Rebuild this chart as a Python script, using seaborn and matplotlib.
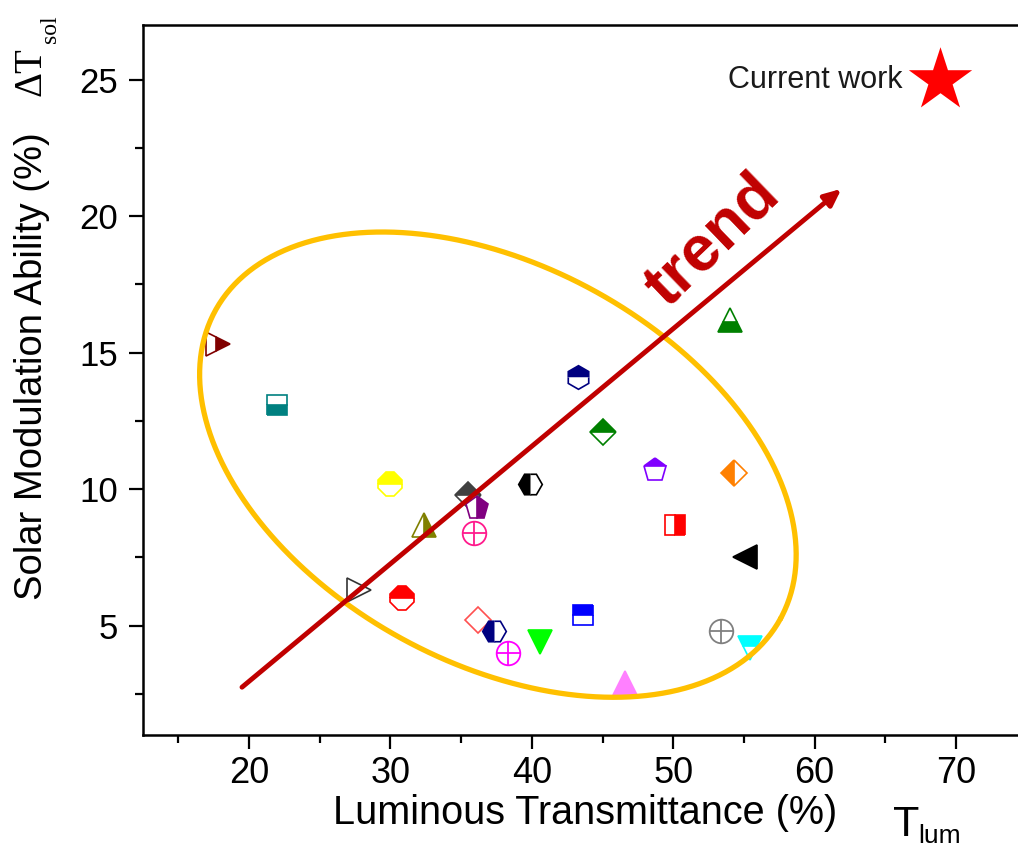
import numpy as np
import matplotlib
matplotlib.use("Agg")
import matplotlib.pyplot as plt
from matplotlib.ticker import MultipleLocator
import seaborn as sns

# luminous transmittance (%) and solar modulation ability (%) of reported films
lum = [17.8, 22.0, 30.0, 32.4, 35.5, 36.1, 35.9, 39.9, 27.8, 30.8, 36.2, 37.3,
       38.3, 40.6, 43.6, 46.6, 43.3, 45.0, 48.7, 54.3, 54.0, 50.1, 55.1, 53.4, 55.4]
sol = [15.3, 13.1, 10.2, 8.7, 9.8, 9.3, 8.4, 10.2, 6.3, 6.0, 5.2, 4.8,
       4.0, 4.4, 5.4, 2.9, 14.1, 12.1, 10.7, 10.6, 16.2, 8.7, 7.5, 4.8, 4.2]
markers = [">", "s", "8", "^", "D", "p", "oplus", "H", ">", "8", "D", "H",
           "oplus", "v", "s", "^", "h", "D", "p", "D", "^", "s", "<", "oplus", "v"]
colors = ["#800000", "#008080", "#FFFF00", "#808000", "#404040", "#800080",
          "#FF1A8C", "#000000", "#333333", "#FF0000", "#FF5050", "#000080",
          "#FF00FF", "#00FF00", "#0000FF", "#FF80FF", "#000080", "#008000",
          "#8000FF", "#FF8000", "#008000", "#FF0000", "#000000", "#808080",
          "#00FFFF"]
fills = ["right", "bottom", "top", "right", "top", "right", "none", "left",
         "none", "top", "none", "left", "none", "full", "top", "full", "top",
         "top", "top", "left", "bottom", "right", "full", "none", "top"]

star_lum = [68.9]
star_sol = [25.0]

sns.set_style("ticks")
plt.rcParams["font.family"] = ["Liberation Sans", "DejaVu Sans"]
plt.rcParams.update({"text.color": "black", "axes.labelcolor": "black",
                     "xtick.color": "black", "ytick.color": "black"})

fig = plt.figure(figsize=(10.18, 8.5), dpi=100)
ax = fig.add_axes([0.1405, 0.1353, 0.868, 0.8353])
ax.set_xlim(12.5, 75)
ax.set_ylim(1.0, 27.0)

for x, y, m, c, f in zip(lum, sol, markers, colors, fills):
    if m == "oplus":
        ax.plot(x, y, marker="o", ms=17, mfc="none", mec=c, mew=1.3, ls="none", zorder=3)
        ax.plot(x, y, marker="+", ms=17, mec=c, mew=1.3, ls="none", zorder=3)
        continue
    ms = {"s": 14, "D": 13, "8": 17, "h": 17, "H": 17, "p": 17}.get(m, 17)
    ax.plot(x, y, marker=m, ms=ms, color=c, mec=c, mew=1.2, ls="none",
            fillstyle=f, markerfacecoloralt="white", zorder=3)

sns.scatterplot(x=star_lum, y=star_sol, marker="*", s=2300, color="#FF0000",
                edgecolor="#FF0000", linewidth=0, ax=ax, zorder=4, legend=False)
ax.text(66.2, 25.0, "Current work", fontsize=22, ha="right", va="center",
        color="#1a1a1a")

# orange ellipse guide (half axes in pixels, tilted)
px_x, px_y = 14.14, 27.35
t = np.linspace(0, 2 * np.pi, 400)
th = np.deg2rad(28.6)
a, b = 322, 199
ex = 37.6 + (a * np.cos(t) * np.cos(th) - b * np.sin(t) * np.sin(th)) / px_x
ey = 10.9 - (a * np.cos(t) * np.sin(th) + b * np.sin(t) * np.cos(th)) / px_y
ax.plot(ex, ey, color="#FFC000", lw=3.8, zorder=5)

# trend arrow
ax.annotate("", xy=(61.9, 21.0), xytext=(19.5, 2.75),
            arrowprops=dict(arrowstyle="-|>,head_length=1.0,head_width=0.45",
                            color="#C00000", lw=3.5, shrinkA=0, shrinkB=0),
            zorder=6)
ax.text(52.8, 19.1, "trend", fontsize=46, fontweight="bold", color="#C00000",
        rotation=44, ha="center", va="center", rotation_mode="anchor")

ax.set_xticks([20, 30, 40, 50, 60, 70])
ax.set_xticklabels(["20", "30", "40", "50", "60", "70"], fontsize=26)
ax.set_yticks([5, 10, 15, 20, 25])
ax.set_yticklabels(["5", "10", "15", "20", "25"], fontsize=25)
ax.xaxis.set_minor_locator(MultipleLocator(5))
ax.set_yticks([2.5, 7.5, 12.5, 17.5, 22.5], minor=True)

ax.tick_params(which="major", direction="out", length=10, width=1.6)
ax.tick_params(which="minor", direction="out", length=6, width=1.6)
ax.tick_params(axis="x", which="major", pad=5)
ax.tick_params(axis="y", which="major", pad=8)
for sp in ax.spines.values():
    sp.set_linewidth(1.8)
    sp.set_color("black")

ax.set_xlabel("Luminous Transmittance (%)", fontsize=28.5)
ax.xaxis.set_label_coords(0.5, -0.083)
ax.set_ylabel("Solar Modulation Ability (%)", fontsize=27.5)
ax.yaxis.set_label_coords(-0.105, 0.52)

fig.text(893 / 1018, 1 - 836 / 850, "T", fontsize=31, ha="left", va="baseline")
fig.text(918 / 1018, 1 - 843 / 850, "lum", fontsize=19, ha="left", va="baseline")
fig.text(50 / 1018, 1 - 96 / 850, "\u0394T", fontsize=28, family="Liberation Serif",
         rotation=90, ha="right", va="bottom")
fig.text(61 / 1018, 1 - 43 / 850, "sol", fontsize=17, family="Liberation Serif",
         rotation=90, ha="right", va="bottom")

fig.savefig("out.png", dpi=100)
